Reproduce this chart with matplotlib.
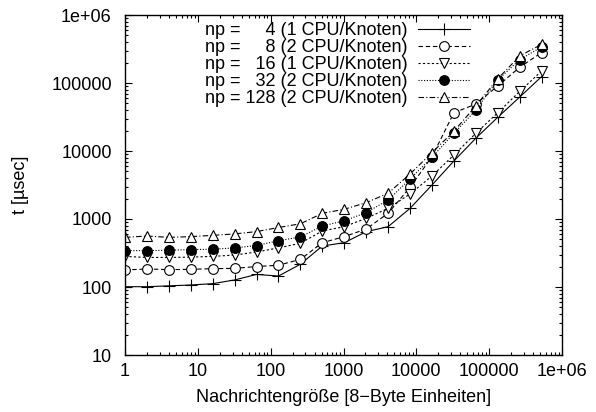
import matplotlib
matplotlib.use("Agg")
import matplotlib.pyplot as plt
from matplotlib.ticker import LogLocator, NullFormatter

plt.rcParams['font.family'] = ['Liberation Sans', 'DejaVu Sans']

sizes = [1, 2, 4, 8, 16, 32, 64, 128, 256, 512, 1024, 2048, 4096, 8192,
         16384, 32768, 65536, 131072, 262144, 524288]
t_np4 = [101, 101, 104, 107, 112, 127, 153, 145, 216, 401, 448, 650, 771, 1435,
         3160, 7130, 15400, 31300, 62000, 124000]
t_np8 = [178, 184, 180, 182, 186, 188, 200, 209, 255, 448, 550, 713, 1213, 2925,
         8240, 36500, 49000, 90400, 170000, 280000]
t_np16 = [282, 272, 272, 275, 282, 295, 327, 376, 440, 667, 771, 1023, 1435, 2333,
          4290, 8720, 18200, 36500, 75000, 150000]
t_np32 = [343, 343, 347, 355, 359, 376, 407, 479, 545, 789, 944, 1238, 1905, 3875,
          8070, 18200, 39900, 110600, 220000, 340000]
t_np128 = [537, 562, 537, 550, 575, 603, 653, 750, 850, 1213, 1390, 1740, 2390, 4590,
           9440, 19500, 46000, 115000, 250000, 370000]

labels = ["np =     4 (1 CPU/Knoten)",
          "np =     8 (2 CPU/Knoten)",
          "np =   16 (1 CPU/Knoten)",
          "np =   32 (2 CPU/Knoten)",
          "np = 128 (2 CPU/Knoten)"]

xticks = [1, 10, 100, 1000, 10000, 100000, 1000000]
xticklabels = ["1", "10", "100", "1000", "10000", "100000", "1e+06"]
yticks = [10, 100, 1000, 10000, 100000, 1000000]
yticklabels = ["10", "100", "1000", "10000", "100000", "1e+06"]

FS = 13
W, H = 596, 412
fig = plt.figure(figsize=(W / 100, H / 100), dpi=100)
ax = fig.add_axes([125 / W, 1 - 355 / H, (562 - 125) / W, (355 - 15) / H])

lw = 0.8
ms = 7
ax.plot(sizes, t_np4, color='black', lw=lw, ls='-', marker='+', ms=ms + 1,
        mew=0.8, label=labels[0])
ax.plot(sizes, t_np8, color='black', lw=lw, ls=(0, (4, 2.5)), marker='o', ms=ms,
        mfc='white', mew=0.8, label=labels[1])
ax.plot(sizes, t_np16, color='black', lw=lw, ls=(0, (2, 2)), marker='v', ms=ms,
        mfc='white', mew=0.8, label=labels[2])
ax.plot(sizes, t_np32, color='black', lw=lw, ls=(0, (1, 1.5)), marker='o', ms=ms,
        mfc='black', mew=0.8, label=labels[3])
ax.plot(sizes, t_np128, color='black', lw=lw, ls=(0, (5, 2, 1, 2)), marker='^', ms=ms,
        mfc='white', mew=0.8, label=labels[4])

ax.set_xscale('log')
ax.set_yscale('log')
ax.set_xlim(1, 1e6)
ax.set_ylim(10, 1e6)
ax.set_xticks(xticks)
ax.set_xticklabels(xticklabels, fontsize=FS)
ax.set_yticks(yticks)
ax.set_yticklabels(yticklabels, fontsize=FS)
ax.xaxis.set_minor_locator(LogLocator(base=10, subs=range(2, 10), numticks=20))
ax.yaxis.set_minor_locator(LogLocator(base=10, subs=range(2, 10), numticks=20))
ax.xaxis.set_minor_formatter(NullFormatter())
ax.yaxis.set_minor_formatter(NullFormatter())
ax.tick_params(which='both', direction='in', top=True, right=True, width=0.8)
ax.tick_params(axis='x', which='major', length=5, pad=6)
ax.tick_params(axis='y', which='major', length=5, pad=9.5)
ax.tick_params(which='minor', length=2.5)
for s in ax.spines.values():
    s.set_linewidth(1.0)

ax.set_xlabel("Nachrichtengröße [8\u2212Byte Einheiten]", fontsize=FS, labelpad=6)
ax.set_ylabel("t [µsec]", fontsize=FS, labelpad=16)

leg = ax.legend(loc='upper right', bbox_to_anchor=(470 / W, 1 - 22 / H),
                bbox_transform=fig.transFigure, frameon=False, fontsize=FS,
                markerfirst=False, handlelength=2.9, handletextpad=0.55,
                labelspacing=0.0, borderpad=0, borderaxespad=0)

fig.savefig("out.png", dpi=100)
